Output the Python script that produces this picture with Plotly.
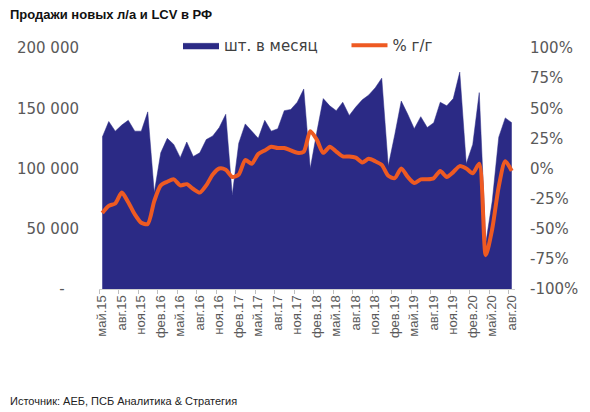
import plotly.graph_objects as go

month_abbr = ["янв", "фев", "мар", "апр", "май", "июн", "июл", "авг", "сен", "окт", "ноя", "дек"]
categories = []
for year in range(2015, 2021):
    for m in range(12):
        if (year == 2015 and m < 4) or (year == 2020 and m > 7):
            continue
        categories.append(f"{month_abbr[m]}.{str(year)[2:]}")

# sales, units per month
units = [126000, 139000, 131000, 136000, 140000, 131000, 131000, 147000, 80000, 113000,
         125000, 120000, 109000, 122000, 110000, 113000, 124000, 127000, 134000, 145000,
         78000, 121000, 137000, 131000, 125000, 140000, 131000, 133000, 148000, 149000,
         155000, 166000, 100000, 130000, 158000, 152000, 148000, 155000, 144000, 151000,
         157000, 161000, 167000, 175000, 102000, 128000, 156000, 145000, 133000, 143000,
         134000, 138000, 155000, 152000, 158000, 180000, 104000, 120000, 163000, 38000,
         73000, 126000, 142000, 138000]

# y/y change, %
yoy = [-37, -31, -29, -20, -28, -38, -45, -46, -27, -14,
       -11, -9, -14, -13, -17, -20, -14, -5, 0, -1,
       -7, -5, 7, 4, 12, 15, 18, 17, 17, 15,
       13, 14, 31, 24, 13, 18, 14, 10, 10, 9,
       5, 8, 6, 3, -6, -8, 0, -7, -12, -9,
       -9, -8, -2, -7, -3, 2, 0, -4, 4, -72,
       -50, -15, 6, -2]

left_vals = [0, 50000, 100000, 150000, 200000]
left_text = ["-\u00a0\u00a0\u00a0", "50 000", "100 000", "150 000", "200 000"]
right_vals = [-100, -75, -50, -25, 0, 25, 50, 75, 100]
right_text = ["-100%", "-75%", "-50%", "-25%", "0%", "25%", "50%", "75%", "100%"]
series_names = ["шт. в месяц", "% г/г"]

NAVY = "#2B2A85"
ORANGE = "#EE5A22"
GRAY = "#595959"

W, H = 582, 404
L, T, R, B = 91, 40, 75, 123
PW = W - L - R
PH = H - T - B

fig = go.Figure()
fig.add_trace(go.Scatter(
    x=categories, y=units, name=series_names[0] + "\u00a0" * 5, mode="lines",
    fill="tozeroy", fillcolor=NAVY, line=dict(color=NAVY, width=0.5),
    yaxis="y",
))
fig.add_trace(go.Scatter(
    x=categories, y=yoy, name=series_names[1], mode="lines",
    line=dict(color=ORANGE, width=4, shape="spline", smoothing=0.7),
    yaxis="y2",
))

fig.update_layout(
    width=W, height=H,
    margin=dict(l=L, r=R, t=T, b=B, autoexpand=False),
    paper_bgcolor="white", plot_bgcolor="white",
    font=dict(family="DejaVu Sans", color=GRAY),
    showlegend=True,
    legend=dict(orientation="h", x=(170 - L) / PW, y=1.01, xanchor="left", yanchor="middle",
                font=dict(family="DejaVu Sans", size=15, color="#404040"),
                bgcolor="rgba(0,0,0,0)", itemwidth=36, traceorder="normal"),
    xaxis=dict(
        type="category", range=[-0.5, 63.5], tickmode="linear", tick0=0, dtick=3,
        tickson="boundaries", ticks="outside", ticklen=4, tickcolor="#BFBFBF",
        showline=True, linecolor="#D0D0D0", linewidth=1, showgrid=False,
        tickangle=-90, tickfont=dict(family="Liberation Sans", size=13, color=GRAY),
        zeroline=False, automargin=False,
    ),
    yaxis=dict(
        range=[0, 200000], tickvals=left_vals, ticktext=left_text,
        showgrid=False, zeroline=False, showline=False, ticks="",
        tickfont=dict(family="DejaVu Sans", size=15, color=GRAY),
        ticklabelstandoff=19, automargin=False,
    ),
    yaxis2=dict(
        range=[-100, 100], tickvals=right_vals, ticktext=right_text,
        overlaying="y", side="right", showgrid=False, zeroline=False, showline=False,
        ticks="", tickfont=dict(family="DejaVu Sans", size=15, color=GRAY),
        ticklabelstandoff=14, automargin=False,
    ),
    annotations=[
        dict(text="<b>Продажи новых л/а и LCV в РФ</b>", xref="paper", yref="paper",
             x=-L / PW, y=(PH + T - 6) / PH, xanchor="left", yanchor="middle",
             showarrow=False, font=dict(family="Liberation Sans", size=13, color="#111111")),
        dict(text="Источник: АЕБ, ПСБ Аналитика & Стратегия", xref="paper", yref="paper",
             x=-L / PW, y=(PH + T - 393) / PH, xanchor="left", yanchor="middle",
             showarrow=False, font=dict(family="Liberation Sans", size=11, color="#222222")),
    ],
)

fig.write_html("out.html")
